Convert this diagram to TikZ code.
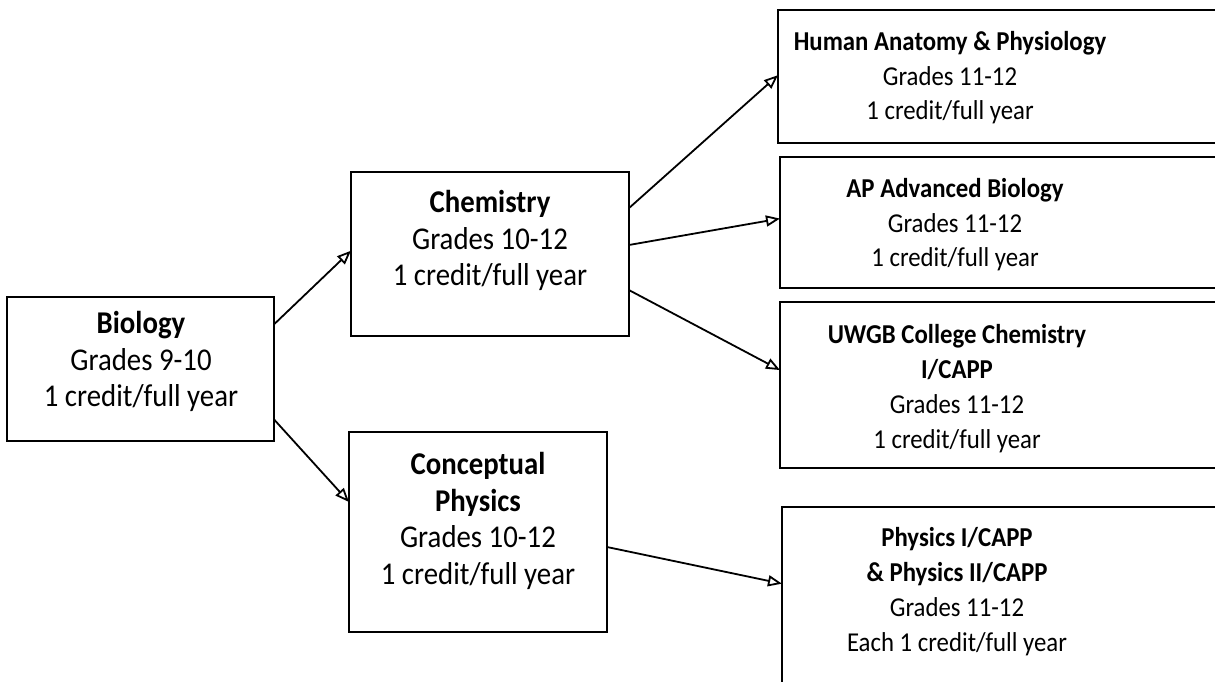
\documentclass[tikz,border=0pt]{standalone}
\usepackage{graphicx}
\usepackage{fontspec}
\setmainfont{Carlito}
\usetikzlibrary{calc,arrows.meta}
\newcommand{\tallcell}[1]{\scalebox{1}[1.1]{\begin{tabular}{@{}c@{}}#1\end{tabular}}}

\begin{document}
\begin{tikzpicture}[x=0.5pt,y=-0.5pt,line width=0.9pt]
	\tikzstyle{course}=[draw,rectangle,inner sep=0pt,outer sep=0pt]
	\tikzstyle{coursetext}=[inner sep=0pt,font=\fontsize{14.4}{16.6}\selectfont]
	\tikzstyle{nexttext}=[coursetext,font=\fontsize{12.4}{15.9}\selectfont]
	\tikzstyle{flow}=[-{Triangle[open,length=7pt,width=5.5pt]}]
	
	\useasboundingbox (0,0) rectangle (1215,681);
	\clip (0,0) rectangle (1215,681);
	
	% boxes
	\node[course,minimum width=133.5pt,minimum height=72pt] (bio) at (140.5,369) {};
	\node[course,minimum width=139pt,minimum height=82pt] (chem) at (490,254) {};
	\node[course,minimum width=129pt,minimum height=100pt] (cphys) at (478,532) {};
	\node[course,minimum width=223.5pt,minimum height=66.5pt] (hap) at (1001.5,76.5) {};
	\node[course,minimum width=222.5pt,minimum height=65.5pt] (ap) at (1002.5,222.5) {};
	\node[course,minimum width=222.5pt,minimum height=83pt] (uwgb) at (1002.5,385) {};
	\node[course,minimum width=221.5pt,minimum height=106.5pt] (phys) at (1003.5,613.5) {};
	
	% texts
	\node[coursetext] (bio-t) at (141,363) {\tallcell{\textbf{Biology}\\Grades 9-10\\1 credit/full year}};
	\node[coursetext] (chem-t) at (490,242) {\tallcell{\textbf{Chemistry}\\Grades 10-12\\1 credit/full year}};
	\node[coursetext] (cphys-t) at (478,522) {\tallcell{\textbf{Conceptual}\\\textbf{Physics}\\Grades 10-12\\1 credit/full year}};
	\node[nexttext] (hap-t) at (950,78) {\tallcell{\textbf{Human Anatomy \& Physiology}\\Grades 11-12\\1 credit/full year}};
	\node[nexttext] (ap-t) at (955,225) {\tallcell{\textbf{AP Advanced Biology}\\Grades 11-12\\1 credit/full year}};
	\node[nexttext] (uwgb-t) at (957,389) {\tallcell{\textbf{UWGB College Chemistry}\\\textbf{I/CAPP}\\Grades 11-12\\1 credit/full year}};
	\node[nexttext] (phys-t) at (957,592) {\tallcell{\textbf{Physics I/CAPP}\\\textbf{\& Physics II/CAPP}\\Grades 11-12\\Each 1 credit/full year}};
	
	% arrows
	\foreach \from/\fa/\to/\ta in {bio/0.19/chem/0.48, bio/0.85/cphys/0.35, chem/0.22/hap/0.49, chem/0.445/ap/0.47, chem/0.72/uwgb/0.41, cphys/0.575/phys/0.36}
	\draw[flow] ($(\from.north east)!\fa!(\from.south east)$) -- ($(\to.north west)!\ta!(\to.south west)$);
	
\end{tikzpicture}
\end{document}
